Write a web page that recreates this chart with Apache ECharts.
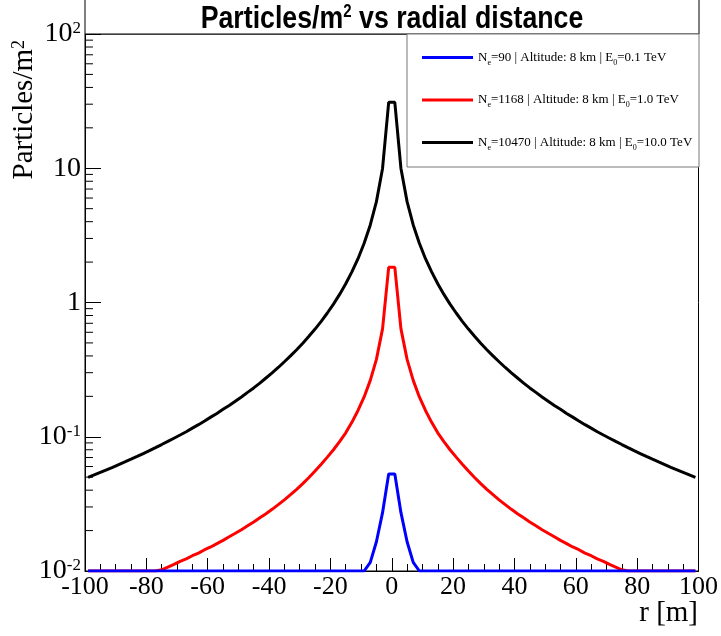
<!DOCTYPE html>
<html>
<head>
<meta charset="utf-8">
<script src="https://cdn.jsdelivr.net/npm/echarts@6/dist/echarts.min.js"></script>
<style>html,body{margin:0;padding:0;background:#fff;}#c{width:721px;height:636px;}</style>
</head>
<body>
<div id="c"></div>
<script>
// radial distance bin centres [m]
const rValues = [-99,-97,-95,-93,-91,-89,-87,-85,-83,-81,-79,-77,-75,-73,-71,-69,-67,-65,-63,-61,-59,-57,-55,-53,-51,-49,-47,-45,-43,-41,-39,-37,-35,-33,-31,-29,-27,-25,-23,-21,-19,-17,-15,-13,-11,-9,-7,-5,-3,-1,
1,3,5,7,9,11,13,15,17,19,21,23,25,27,29,31,33,35,37,39,41,43,45,47,49,51,53,55,57,59,61,63,65,67,69,71,73,75,77,79,81,83,85,87,89,91,93,95,97,99];

// E0 = 0.1 TeV (blue)
const blueValues = [0.01,0.01,0.01,0.01,0.01,0.01,0.01,0.01,0.01,0.01,0.01,0.01,0.01,0.01,0.01,0.01,0.01,0.01,0.01,0.01,0.01,0.01,0.01,0.01,0.01,0.01,0.01,0.01,0.01,0.01,0.01,0.01,0.01,0.01,0.01,0.01,0.01,0.01,0.01,0.01,0.01,0.01,0.01,0.01,0.01,0.01,0.0116,0.0165,0.0272,0.0527,
0.0527,0.0272,0.0165,0.0116,0.01,0.01,0.01,0.01,0.01,0.01,0.01,0.01,0.01,0.01,0.01,0.01,0.01,0.01,0.01,0.01,0.01,0.01,0.01,0.01,0.01,0.01,0.01,0.01,0.01,0.01,0.01,0.01,0.01,0.01,0.01,0.01,0.01,0.01,0.01,0.01,0.01,0.01,0.01,0.01,0.01,0.01,0.01,0.01,0.01,0.01];

// E0 = 1.0 TeV (red)
const redValues = [0.01,0.01,0.01,0.01,0.01,0.01,0.01,0.01,0.01,0.01,0.01,0.01,0.0102,0.0107,0.0112,0.0118,0.0123,0.0130,0.0136,0.0144,0.0151,0.0160,0.0169,0.0180,0.0191,0.0203,0.0217,0.0232,0.0249,0.0267,0.0288,0.0312,0.0339,0.0370,0.0406,0.0448,0.0497,0.0556,0.0625,0.0705,0.0800,0.0920,0.107,0.128,0.157,0.198,0.263,0.377,0.636,1.828,
1.828,0.636,0.377,0.263,0.198,0.157,0.128,0.107,0.0920,0.0800,0.0705,0.0625,0.0556,0.0497,0.0448,0.0406,0.0370,0.0339,0.0312,0.0288,0.0267,0.0249,0.0232,0.0217,0.0203,0.0191,0.0180,0.0169,0.0160,0.0151,0.0144,0.0136,0.0130,0.0123,0.0118,0.0112,0.0107,0.0102,0.01,0.01,0.01,0.01,0.01,0.01,0.01,0.01,0.01,0.01,0.01,0.01];

// E0 = 10.0 TeV (black)
const blackValues = [0.0498,0.0520,0.0543,0.0567,0.0592,0.0620,0.0649,0.0680,0.0714,0.0750,0.0788,0.0830,0.0875,0.0923,0.0975,0.103,0.109,0.116,0.123,0.131,0.140,0.149,0.160,0.171,0.184,0.198,0.214,0.231,0.251,0.274,0.299,0.328,0.362,0.400,0.445,0.497,0.560,0.634,0.724,0.835,0.973,1.149,1.38,1.69,2.12,2.76,3.78,5.64,9.97,31.0,
31.0,9.97,5.64,3.78,2.76,2.12,1.69,1.38,1.149,0.973,0.835,0.724,0.634,0.560,0.497,0.445,0.400,0.362,0.328,0.299,0.274,0.251,0.231,0.214,0.198,0.184,0.171,0.160,0.149,0.140,0.131,0.123,0.116,0.109,0.103,0.0975,0.0923,0.0875,0.0830,0.0788,0.0750,0.0714,0.0680,0.0649,0.0620,0.0592,0.0567,0.0543,0.0520,0.0498];

// legend pieces
const neValues = ['90', '1168', '10470'];
const e0Values = ['0.1', '1.0', '10.0'];
const altitude = '8 km';
const lineColors = ['#0000ff', '#ff0000', '#000000'];

// y tick labels: [base, exponent]
const yTickValues = [0.01, 0.1, 1, 10, 100];
const yTickText = [['10', '-2'], ['10', '-1'], ['1', ''], ['10', ''], ['10', '2']];

const names = neValues.map((ne, i) => 'Ne=' + ne + ' | Altitude: ' + altitude + ' | E0=' + e0Values[i] + ' TeV');
const legendRich = names.map((n, i) => '{t|N}{s|e}{t|=' + neValues[i] + ' | Altitude: ' + altitude + ' | E}{s|0}{t|=' + e0Values[i] + ' TeV}');

const minorY = [];
[0.01, 0.1, 1, 10].forEach(d => { for (let k = 2; k <= 9; k++) minorY.push([-100, d * k]); });

const serif = '"Liberation Serif", "Times New Roman", serif';
const sans = '"Liberation Sans", Arial, sans-serif';

function mk(vals) { return rValues.map((r, i) => [r, vals[i]]); }

const chart = echarts.init(document.getElementById('c'), null, {renderer: 'canvas'});
chart.setOption({
  animation: false,
  backgroundColor: '#fff',
  grid: {left: 85, right: 22, top: 34, bottom: 65, show: true, borderColor: '#000', borderWidth: 1, backgroundColor: 'transparent'},
  legend: {
    orient: 'vertical', left: 417, top: 46, itemWidth: 51, itemHeight: 3, itemGap: 27,
    icon: 'rect', selectedMode: false, z: 6,
    data: names,
    formatter: n => legendRich[names.indexOf(n)],
    textStyle: {
      color: '#000', fontFamily: serif, fontSize: 13,
      rich: {
        t: {fontFamily: serif, fontSize: 13, color: '#000', lineHeight: 18},
        s: {fontFamily: serif, fontSize: 8, color: '#000', lineHeight: 18, verticalAlign: 'bottom', padding: [6, 0, 0, 0]}
      }
    }
  },
  xAxis: {
    type: 'value', min: -100, max: 100, interval: 20,
    axisLine: {onZero: false, lineStyle: {color: '#000', width: 1}},
    axisTick: {inside: true, length: 13, lineStyle: {color: '#000'}},
    minorTick: {show: true, splitNumber: 4, length: 7, lineStyle: {color: '#000'}},
    splitLine: {show: false},
    axisLabel: {color: '#000', fontFamily: serif, fontSize: 26, margin: 3}
  },
  yAxis: {
    type: 'log', logBase: 10, min: 0.01, max: 100,
    axisLine: {show: true, onZero: false, lineStyle: {color: '#000', width: 1}},
    axisTick: {show: true, inside: true, length: 16, lineStyle: {color: '#000'}},
    splitLine: {show: false},
    axisLabel: {
      color: '#000', fontFamily: serif, fontSize: 28, margin: 4,
      formatter: v => {
        const e = Math.round(Math.log10(v));
        const idx = yTickValues.findIndex(t => Math.round(Math.log10(t)) === e);
        if (idx < 0) return '';
        const p = yTickText[idx];
        return p[1] ? '{b|' + p[0] + '}{sup|' + p[1] + '}' : '{b|' + p[0] + '}';
      },
      rich: {
        b: {fontFamily: serif, fontSize: 28, color: '#000', lineHeight: 28},
        sup: {fontFamily: serif, fontSize: 17, color: '#000', verticalAlign: 'top', lineHeight: 17, padding: [0, 0, 10, 0]}
      }
    }
  },
  graphic: [
    {type: 'rect', z: 1, shape: {x: 85, y: -1, width: 614, height: 35}, style: {fill: '#fff', stroke: '#000', lineWidth: 1}},
    {type: 'text', z: 5, x: 392, y: 19, scaleX: 0.835,
      style: {text: 'Particles/m{sup|2} vs radial distance', align: 'center', verticalAlign: 'middle', fill: '#000',
        font: 'bold 32px ' + sans,
        rich: {sup: {fontFamily: sans, fontWeight: 'bold', fontSize: 18, verticalAlign: 'top', lineHeight: 18, padding: [0, 0, 14, 0]}}}},
    {type: 'rect', z: 5, shape: {x: 407, y: 34, width: 292, height: 133}, style: {fill: '#fff', stroke: '#777', lineWidth: 1}},
    {type: 'text', z: 5, x: 39, y: 40, rotation: Math.PI / 2,
      style: {text: 'Particles/m{sup|2}', align: 'right', verticalAlign: 'bottom', fill: '#000',
        font: '29px ' + serif,
        rich: {sup: {fontFamily: serif, fontSize: 18, verticalAlign: 'top', padding: [0, 0, 10, 0]}}}},
    {type: 'text', z: 5, x: 698, y: 613,
      style: {text: 'r [m]', align: 'right', verticalAlign: 'middle', fill: '#000', font: '29px ' + serif}}
  ],
  series: [
    {name: names[2], type: 'line', data: mk(blackValues), showSymbol: false, symbol: 'none', z: 2,
      lineStyle: {color: lineColors[2], width: 3}, itemStyle: {color: lineColors[2]}},
    {name: names[1], type: 'line', data: mk(redValues), showSymbol: false, symbol: 'none', z: 2,
      lineStyle: {color: lineColors[1], width: 3}, itemStyle: {color: lineColors[1]}},
    {name: names[0], type: 'line', data: mk(blueValues), showSymbol: false, symbol: 'none', z: 2,
      lineStyle: {color: lineColors[0], width: 3}, itemStyle: {color: lineColors[0]}},
    {type: 'custom', coordinateSystem: 'cartesian2d', silent: true, z: 3, data: minorY,
      renderItem: (params, api) => {
        const p = api.coord([-100, api.value(1)]);
        return {type: 'line', shape: {x1: p[0], y1: p[1], x2: p[0] + 8, y2: p[1]}, style: {stroke: '#000', lineWidth: 1}};
      }}
  ]
});
</script>
</body>
</html>
